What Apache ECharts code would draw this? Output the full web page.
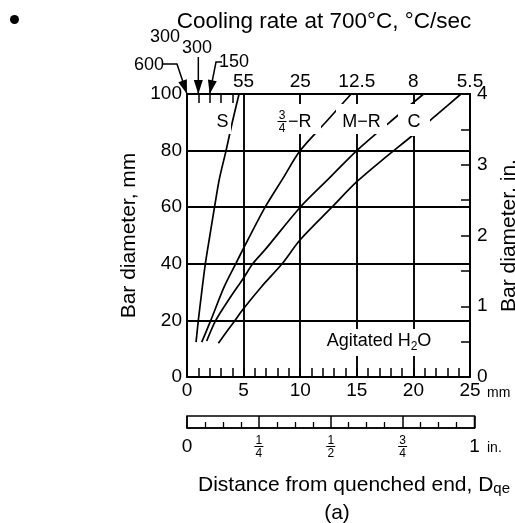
<!DOCTYPE html>
<html><head><meta charset="utf-8">
<script src="https://cdn.jsdelivr.net/npm/echarts@6/dist/echarts.min.js"></script>
<style>html,body{margin:0;padding:0;background:#fff}#c{width:515px;height:523px}</style>
</head><body><div id="c"></div>
<script>
// ---- data (mm from quenched end, bar diameter mm) ----
const curveS   = [[0.8,12.3],[1.0,20],[1.3,30],[1.62,40],[2.02,50],[2.43,60],[2.86,70],[3.45,80],[4.0,90],[4.6,100]];
const curve34R = [[1.3,12.3],[2.1,20],[3.3,32],[4.3,40],[5.0,45.5],[6.9,60],[8.45,70],[10,80],[12.25,90],[14.5,100]];
const curveMR  = [[1.74,12.7],[2.54,20],[3.8,28],[5.0,35],[5.8,40],[6.9,45],[10,60],[12.5,70],[15,80],[17.9,90],[20.9,100]];
const curveC   = [[2.77,11.9],[3.5,16],[4.24,20],[4.9,23.7],[6.6,32],[8.4,40],[10,48.5],[12.8,60],[15,69],[17.5,77.5],[20,85.6],[22.1,92.8],[24.2,100]];
const coolingRatePositions = [5,10,15,20,25];
const coolingRateLabels    = ['55','25','12.5','8','5.5'];
const topTickValues        = [1,2,3,4];
const inchFractions        = [[0.25,'1','4'],[0.5,'1','2'],[0.75,'3','4']];

const FONT = '"Liberation Sans", Arial, Helvetica, sans-serif';
const K = '#000';
const chart = echarts.init(document.getElementById('c'), null, {renderer:'canvas'});

function curve(name, data){
  return {name, type:'line', xAxisIndex:0, yAxisIndex:0, data, smooth:0.3, symbol:'none',
          lineStyle:{color:K, width:1.7}, z:3, animation:false, silent:true};
}
const axLine = {show:true, onZero:false, lineStyle:{color:K, width:2}};
const lbl = (extra) => Object.assign({show:true, color:K, fontSize:19, fontFamily:FONT}, extra||{});

const option = {
  animation:false,
  backgroundColor:'#fff',
  grid:[
    {left:187, top:94, width:283, height:283, containLabel:false, outerBoundsMode:'none'},
    {left:187, top:416, width:287.5, height:12, show:true, borderColor:K, borderWidth:1.5,
     backgroundColor:'transparent', containLabel:false, outerBoundsMode:'none'}
  ],
  xAxis:[
    {type:'value', gridIndex:0, position:'bottom', min:0, max:25, interval:5,
     axisLine:axLine,
     axisTick:{show:true, inside:true, length:9, lineStyle:{color:K, width:1.5}},
     minorTick:{show:true, splitNumber:5, length:9, lineStyle:{color:K, width:1.5}},
     splitLine:{show:true, lineStyle:{color:K, width:1.9}},
     axisLabel:lbl({margin:4, showMinLabel:true, showMaxLabel:true})},
    {type:'value', gridIndex:0, position:'top', min:0, max:25, interval:5,
     axisLine:axLine,
     axisTick:{show:true, inside:true, length:9, customValues:topTickValues, lineStyle:{color:K, width:1.5}},
     splitLine:{show:false},
     axisLabel:lbl({margin:3, customValues:coolingRatePositions, showMinLabel:true, showMaxLabel:true,
       formatter:v => { const i = coolingRatePositions.indexOf(v); return i>=0 ? coolingRateLabels[i] : ''; }})},
    {type:'value', gridIndex:1, position:'bottom', min:0, max:1, interval:0.25,
     axisLine:{show:true, onZero:false, lineStyle:{color:K, width:1.5}},
     axisTick:{show:true, inside:true, length:12, lineStyle:{color:K, width:1.5}},
     minorTick:{show:true, splitNumber:4, length:6, lineStyle:{color:K, width:1.3}},
     splitLine:{show:false}, axisLabel:{show:false}}
  ],
  yAxis:[
    {type:'value', gridIndex:0, position:'left', min:0, max:100, interval:20,
     axisLine:axLine, axisTick:{show:false},
     splitLine:{show:true, lineStyle:{color:K, width:1.9}},
     axisLabel:lbl({margin:5, showMinLabel:true, showMaxLabel:true}),
     name:'Bar diameter, mm', nameLocation:'middle', nameGap:38, nameRotate:90,
     nameTextStyle:{color:K, fontSize:21, fontFamily:FONT}},
    {type:'value', gridIndex:0, position:'right', min:0, max:4, interval:1,
     axisLine:axLine,
     axisTick:{show:true, inside:true, length:9, lineStyle:{color:K, width:1.5}},
     minorTick:{show:true, splitNumber:2, length:9, lineStyle:{color:K, width:1.5}},
     splitLine:{show:false},
     axisLabel:lbl({margin:7, showMinLabel:true, showMaxLabel:true}),
     name:'Bar diameter, in.', nameLocation:'middle', nameGap:25, nameRotate:90,
     nameTextStyle:{color:K, fontSize:21, fontFamily:FONT}},
    {type:'value', gridIndex:1, show:false, min:0, max:1}
  ],
  series:[curve('S',curveS), curve('3/4-R',curve34R), curve('M-R',curveMR), curve('C',curveC)]
};
chart.setOption(option);

// ---- annotations ----
const px = v => chart.convertToPixel({xAxisIndex:0}, v);
const py = v => chart.convertToPixel({yAxisIndex:0}, v);
const pin = v => chart.convertToPixel({xAxisIndex:2}, v);
const G = [];
function txt(x,y,text,size,extra){
  G.push({type:'text', x, y, z:20, silent:true,
    style:Object.assign({text, fill:K, fontSize:size, fontFamily:FONT, align:'center', verticalAlign:'middle'}, extra||{})});
}
function box(x1,y1,x2,y2){
  G.push({type:'rect', z:15, silent:true, shape:{x:x1,y:y1,width:x2-x1,height:y2-y1}, style:{fill:'#fff'}});
}
function frac(cx, cy, n, d, size, w){
  txt(cx, cy - size*0.52, n, size);
  txt(cx, cy + size*0.58, d, size);
  G.push({type:'line', z:20, silent:true, shape:{x1:cx-w/2, y1:cy, x2:cx+w/2, y2:cy}, style:{stroke:K, lineWidth:1}});
}
function arrow(pts){
  G.push({type:'polyline', z:20, silent:true, shape:{points:pts}, style:{stroke:K, lineWidth:1.5, fill:null}});
  const [x2,y2] = pts[pts.length-1], [x1,y1] = pts[pts.length-2];
  const L = Math.hypot(x2-x1,y2-y1), ux=(x2-x1)/L, uy=(y2-y1)/L, len=14, hw=4.5;
  const bx = x2-ux*len, by = y2-uy*len;
  G.push({type:'polygon', z:21, silent:true,
    shape:{points:[[x2,y2],[bx-uy*hw, by+ux*hw],[bx+uy*hw, by-ux*hw]]}, style:{fill:K}});
}

// bullet and title
G.push({type:'circle', z:20, silent:true, shape:{cx:14.5, cy:19.5, r:4.5}, style:{fill:K}});
txt(324, 22, 'Cooling rate at 700°C, °C/sec', 22.5);

// high cooling rates with arrows
const plotTop = py(100);
txt(165, 37, '300', 18);
txt(197, 48, '300', 18);
txt(149, 65, '600', 18);
txt(234, 62, '150', 18);
arrow([[162,64],[177,64],[px(0),plotTop]]);
arrow([[px(1),57],[px(1),plotTop]]);
arrow([[222,62],[216,62],[px(2),plotTop]]);

// curve labels with white backgrounds
box(214,110,231,134); txt(222.5,122.5,'S',18);
box(273,104,321,134); frac(282,121.5,'3','4',12,9); txt(288,122.5,'−R',18,{align:'left'});
box(336,104,387,134); txt(361.5,122.5,'M−R',18);
box(398,104,430,136); txt(414,122.5,'C',18);

// medium label
box(320,329,437,356);
G.push({type:'text', x:379, y:341, z:20, silent:true,
  style:{text:'Agitated H{s|2}O', fill:K, fontSize:18, fontFamily:FONT, align:'center', verticalAlign:'middle',
         rich:{s:{fontSize:12, fontFamily:FONT, fill:K, padding:[12,0,0,0]}}}});

// units
txt(487, 393, 'mm', 14, {align:'left'});

// inch scale labels
txt(pin(0), 447, '0', 19);
inchFractions.forEach(([v,n,d]) => frac(pin(v), 446.5, n, d, 12, 9));
txt(pin(1), 447, '1', 19);
txt(487, 448.5, 'in.', 14, {align:'left'});

// axis title
G.push({type:'text', x:354, y:485, z:20, silent:true,
  style:{text:'Distance from quenched end, D{s|qe}', fill:K, fontSize:21, fontFamily:FONT, align:'center', verticalAlign:'middle',
         rich:{s:{fontSize:15, fontFamily:FONT, fill:K, padding:[8,0,0,0]}}}});
txt(337, 513, '(a)', 21);

chart.setOption({graphic:{elements:G}});
</script></body></html>
